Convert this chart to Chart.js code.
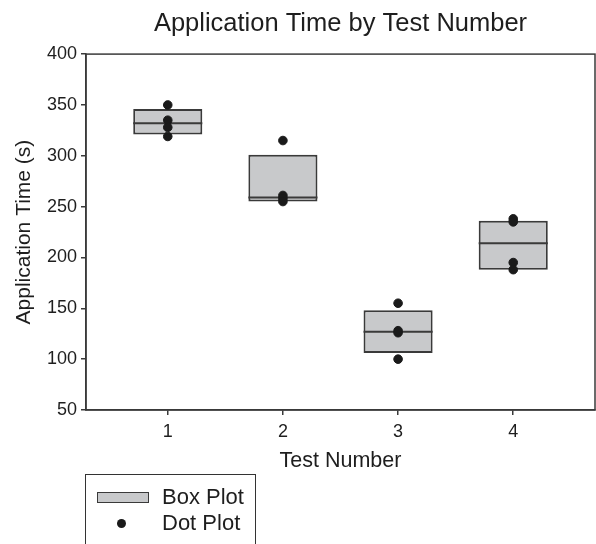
<!DOCTYPE html>
<html>
<head>
<meta charset="utf-8">
<script src="https://cdn.jsdelivr.net/npm/chart.js@4/dist/chart.umd.min.js"></script>
<style>
    html, body { margin: 0; padding: 0; background: #fff; overflow: hidden; }
    #wrap { position: relative; width: 596px; height: 544px; }
    #legend {
        position: absolute; left: 85px; top: 474px; width: 169px; height: 90px;
        border: 1.5px solid #333; font-family: "Liberation Sans", Arial, sans-serif;
        font-size: 22px; color: #1e1e1e;
    }
    .row { position: absolute; left: 0; height: 26px; width: 100%; }
    .row span { position: absolute; left: 76px; top: 0; line-height: 26px; }
</style>
</head>
<body>
<div id="wrap">
    <canvas id="chart1" width="596" height="544"></canvas>
    <div id="legend"></div>
</div>
<script>
// data
var tests = [1, 2, 3, 4];
var xTicks = [1, 2, 3, 4];
var boxLow = [321, 255, 106, 188];
var boxHigh = [346, 301, 148, 236];
var medians = [332, 259, 127, 214];
var dots1 = [350, 335, 328, 319];
var dots2 = [315, 261, 258, 255];
var dots3 = [155, 128, 126, 100];
var dots4 = [238, 235, 195, 188];
var dotSets = [dots1, dots2, dots3, dots4];

var boxFill = '#c8c9cb';
var edge = '#3a3a3a';
var ink = '#1e1e1e';
var font = '"Liberation Sans", Arial, sans-serif';

var boxData = [];
var medianData = [];
var dotData = [];
for (var i = 0; i < tests.length; i++) {
    boxData.push({ x: tests[i], y: [boxLow[i], boxHigh[i]] });
    medianData.push({ x: tests[i] - 0.3, y: medians[i] });
    medianData.push({ x: tests[i] + 0.3, y: medians[i] });
    medianData.push({ x: tests[i], y: null });
    for (var d = 0; d < dotSets[i].length; d++) {
        dotData.push({ x: tests[i], y: dotSets[i][d] });
    }
}

// full frame round the plot area
var frame = {
    id: 'frame',
    beforeDatasetsDraw: function (chart) {
        var a = chart.chartArea;
        var ctx = chart.ctx;
        ctx.save();
        ctx.strokeStyle = edge;
        ctx.lineWidth = 1.5;
        ctx.strokeRect(a.left, a.top, a.right - a.left, a.bottom - a.top);
        ctx.restore();
    }
};

var config = {
    type: 'bar',
    plugins: [frame],
    data: {
        datasets: [{
            type: 'scatter',
            label: 'Dot Plot',
            data: dotData,
            backgroundColor: '#1a1a1a',
            borderColor: '#1a1a1a',
            pointRadius: 4.3,
            order: 1
        }, {
            type: 'line',
            label: 'Median',
            data: medianData,
            borderColor: edge,
            borderWidth: 2,
            pointRadius: 0,
            spanGaps: false,
            order: 2
        }, {
            type: 'bar',
            label: 'Box Plot',
            data: boxData,
            backgroundColor: boxFill,
            borderColor: edge,
            borderWidth: 2,
            borderSkipped: false,
            categoryPercentage: 1,
            barPercentage: 0.6,
            order: 3
        }]
    },
    options: {
        responsive: false,
        animation: false,
        layout: { autoPadding: false, padding: { left: 12, right: 1, top: 0, bottom: 70 } },
        plugins: {
            legend: { display: false },
            tooltip: { enabled: false },
            title: {
                display: true,
                fullSize: false,
                text: 'Application Time by Test Number',
                color: ink,
                font: { family: font, size: 25.5, weight: 'normal' },
                padding: { top: 9, bottom: 14.5 }
            }
        },
        scales: {
            x: {
                type: 'linear',
                position: 'bottom',
                offset: false,
                min: 0.29,
                max: 4.71,
                afterBuildTicks: function (scale) {
                    scale.ticks = xTicks.map(function (v) { return { value: v }; });
                },
                afterFit: function (scale) {
                    scale.height = 64;
                    scale.paddingLeft = 0;
                    scale.paddingRight = 0;
                },
                grid: { display: true, offset: false, drawOnChartArea: false, tickLength: 5, color: edge, lineWidth: 1.5 },
                border: { display: true, color: edge, width: 1.5 },
                ticks: { color: ink, padding: 6, font: { family: font, size: 18 } },
                title: {
                    display: true,
                    text: 'Test Number',
                    color: ink,
                    font: { family: font, size: 21.5 },
                    padding: 0
                }
            },
            y: {
                min: 50,
                max: 400,
                afterFit: function (scale) {
                    scale.width = 74;
                    scale.paddingTop = 0;
                    scale.paddingBottom = 0;
                },
                grid: { display: true, drawOnChartArea: false, tickLength: 5, color: edge, lineWidth: 1.5 },
                border: { display: true, color: edge, width: 1.5 },
                ticks: { stepSize: 50, color: ink, padding: 4, font: { family: font, size: 18 } },
                title: {
                    display: true,
                    text: 'Application Time (s)',
                    color: ink,
                    font: { family: font, size: 21 },
                    padding: 0
                }
            }
        }
    }
};

var ctx = document.getElementById('chart1').getContext('2d');
var chart = new Chart(ctx, config);

// legend in a box below the chart, built from the datasets
var legend = document.getElementById('legend');
var items = [chart.data.datasets[2], chart.data.datasets[0]];
for (var k = 0; k < items.length; k++) {
    var ds = items[k];
    var row = document.createElement('div');
    row.className = 'row';
    row.style.top = (9 + k * 26) + 'px';
    var mark = document.createElement('div');
    mark.style.position = 'absolute';
    if (ds.type === 'bar') {
        mark.style.left = '11px';
        mark.style.top = '8px';
        mark.style.width = '50px';
        mark.style.height = '9px';
        mark.style.background = ds.backgroundColor;
        mark.style.border = '1.5px solid ' + ds.borderColor;
    } else {
        mark.style.left = '31px';
        mark.style.top = '9px';
        mark.style.width = '9px';
        mark.style.height = '9px';
        mark.style.borderRadius = '50%';
        mark.style.background = ds.backgroundColor;
    }
    var text = document.createElement('span');
    text.textContent = ds.label;
    row.appendChild(mark);
    row.appendChild(text);
    legend.appendChild(row);
}
</script>
</body>
</html>
